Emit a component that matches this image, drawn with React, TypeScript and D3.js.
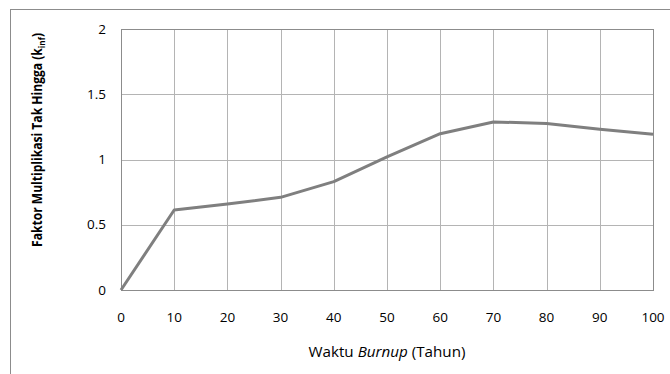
import React from "react";
import * as d3 from "d3";

const years = [0, 10, 20, 30, 40, 50, 60, 70, 80, 90, 100];
const kinf = [0, 0.613, 0.659, 0.71, 0.83, 1.02, 1.198, 1.288, 1.276, 1.232, 1.194];
const xTicks = [0, 10, 20, 30, 40, 50, 60, 70, 80, 90, 100];
const yTicks = [0, 0.5, 1, 1.5, 2];
const yTickLabels = ["0", "0.5", "1", "1.5", "2"];

const W = 670;
const H = 374;
const FONT = "'Open Sans', 'Liberation Sans', sans-serif";

export default function App() {
  const x = d3.scaleLinear().domain([0, 100]).range([121, 653]);
  const y = d3.scaleLinear().domain([0, 2]).range([290, 29]);
  const line = d3
    .line<number>()
    .x((_, i) => x(years[i]))
    .y((d) => y(d));
  const px = (v: number) => Math.round(v) + 0.5;

  return (
    <svg
      width={W}
      height={H}
      style={{ position: "absolute", left: 0, top: 0, background: "#fff" }}
    >
      <rect x={10.5} y={9.5} width={W + 20} height={H + 20} fill="#fff" stroke="#8c8c8c" strokeWidth={1} />
      {/* gridlines */}
      {xTicks.map((t) => (
        <line key={"gx" + t} x1={px(x(t))} x2={px(x(t))} y1={px(y(2))} y2={px(y(0))} stroke="#b4b4b4" strokeWidth={1} />
      ))}
      {yTicks.map((t) => (
        <line key={"gy" + t} x1={px(x(0))} x2={px(x(100))} y1={px(y(t))} y2={px(y(t))} stroke="#b4b4b4" strokeWidth={1} />
      ))}
      <rect
        x={px(x(0))}
        y={px(y(2))}
        width={Math.round(x(100)) - Math.round(x(0))}
        height={Math.round(y(0)) - Math.round(y(2))}
        fill="none"
        stroke="#8c8c8c"
        strokeWidth={1}
      />
      {/* y tick labels */}
      {yTicks.map((t, i) => (
        <text key={"ty" + t} x={106} y={y(t)} dy="0.35em" textAnchor="end" fontFamily={FONT} fontSize={13.5} fill="#000">
          {yTickLabels[i]}
        </text>
      ))}
      {/* x tick labels */}
      {xTicks.map((t) => (
        <text key={"tx" + t} x={x(t)} y={317} dy="0.35em" textAnchor="middle" fontFamily={FONT} fontSize={13.5} fill="#000">
          {t}
        </text>
      ))}
      {/* series */}
      <path d={line(kinf) || ""} fill="none" stroke="#7f7f7f" strokeWidth={3} strokeLinejoin="round" />
      {/* axis titles */}
      <text x={387} y={352} dy="0.35em" textAnchor="middle" fontFamily={FONT} fontSize={14} fill="#000" textLength={157} lengthAdjust="spacingAndGlyphs">
        Waktu <tspan fontStyle="italic">Burnup</tspan> (Tahun)
      </text>
      <text
        transform={`translate(37,140) rotate(-90)`}
        textAnchor="middle"
        dy="0.35em"
        fontFamily={FONT}
        fontSize={14}
        fontWeight="bold"
        fill="#000"
        textLength={214}
        lengthAdjust="spacingAndGlyphs"
      >
        Faktor Multiplikasi Tak Hingga (k<tspan fontSize={9.5} dy="3">inf</tspan><tspan dy="-3">)</tspan>
      </text>
    </svg>
  );
}
